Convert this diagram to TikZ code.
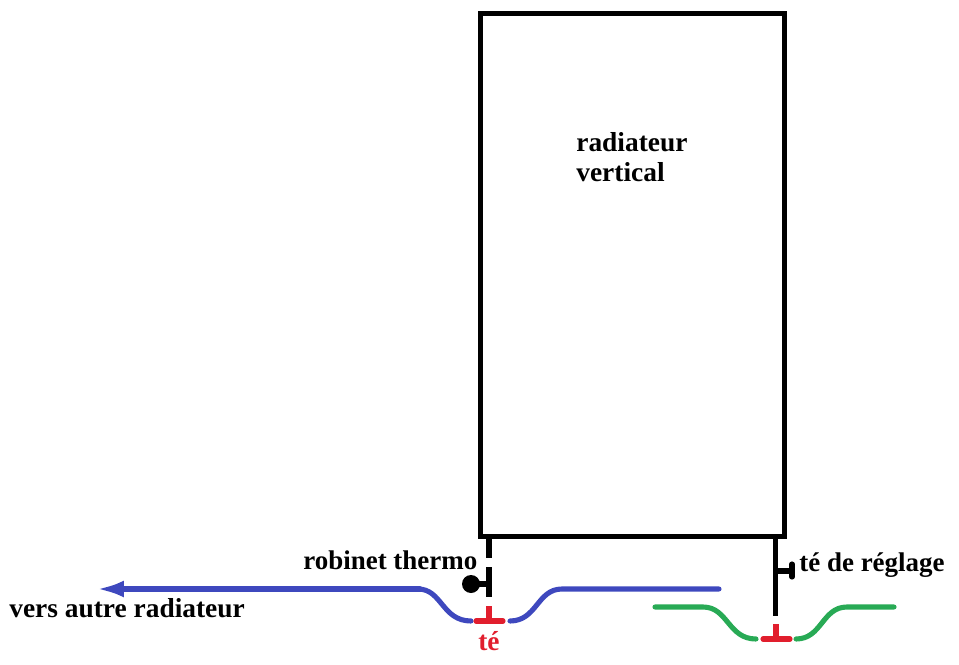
\documentclass[tikz,border=0pt]{standalone}
\usepackage{fontspec}
\setmainfont{Liberation Serif}
\usetikzlibrary{arrows.meta}
\definecolor{PipeBlue}{RGB}{62,72,190}
\definecolor{PipeGreen}{RGB}{40,170,85}
\definecolor{TeeRed}{RGB}{225,30,45}
\newcommand{\teepiece}[2]{%
  \draw[TeeRed,pipe,line cap=butt] (#1,#2)--++(0,-15);
  \draw[TeeRed,pipe] (#1-13,#2)--(#1+14,#2);}
\tikzset{
  pipe/.style={line width=2.9pt,line cap=round},
  label/.style={font=\bfseries\fontsize{15.6}{17.6}\selectfont,inner sep=0pt,anchor=base west},
  sublabel/.style={label,font=\bfseries\fontsize{15.35}{17.6}\selectfont},
}
\begin{document}
\begin{tikzpicture}[x=0.02cm,y=-0.02cm]
  \useasboundingbox (0,0) rectangle (959,665);
  % radiateur
  \draw[line width=2.85pt] (480.5,13.5) rectangle (784.5,536.5);
  \node[label,align=left] (radiateur) at (576,182) {radiateur\\vertical};
  % retour, robinet thermo
  \draw[pipe,line cap=butt] (489,537)--(489,558);
  \draw[pipe,line cap=butt] (489,567)--(489,597);
  \draw[pipe,line cap=butt] (489,584)--(478,584);
  \fill (471,584) circle (9);
  \node[sublabel] (robinet) at (303,569) {robinet thermo};
  % aller, te de reglage
  \draw[pipe,line cap=butt] (775.5,537)--(775.5,616);
  \draw[pipe,line cap=butt] (775.5,571)--(792,571);
  \draw[pipe] (792,564)--(792,577);
  \node[sublabel] (reglage) at (799,571) {té de réglage};
  % tuyau bleu
  \draw[PipeBlue,pipe,-{Latex[length=0.54cm,width=0.34cm]}] (420,589)--(97,589);
  \draw[PipeBlue,pipe] (418,589) .. controls (442,589) and (442,621) .. (471,621);
  \draw[PipeBlue,pipe] (510,621) .. controls (537,621) and (537,589) .. (562,589)--(719,589);
  \node[label] (vers) at (9,617) {vers autre radiateur};
  % tuyau vert
  \draw[PipeGreen,pipe] (655,607)--(703,607) .. controls (728,607) and (728,639) .. (756,639);
  \draw[PipeGreen,pipe] (796,639) .. controls (822,639) and (822,607) .. (847,607)--(894,607);
  % tes
  \teepiece{489}{621}
  \teepiece{776}{639}
  \node[label,text=TeeRed,anchor=base] (te) at (489,650) {té};
\end{tikzpicture}
\end{document}
